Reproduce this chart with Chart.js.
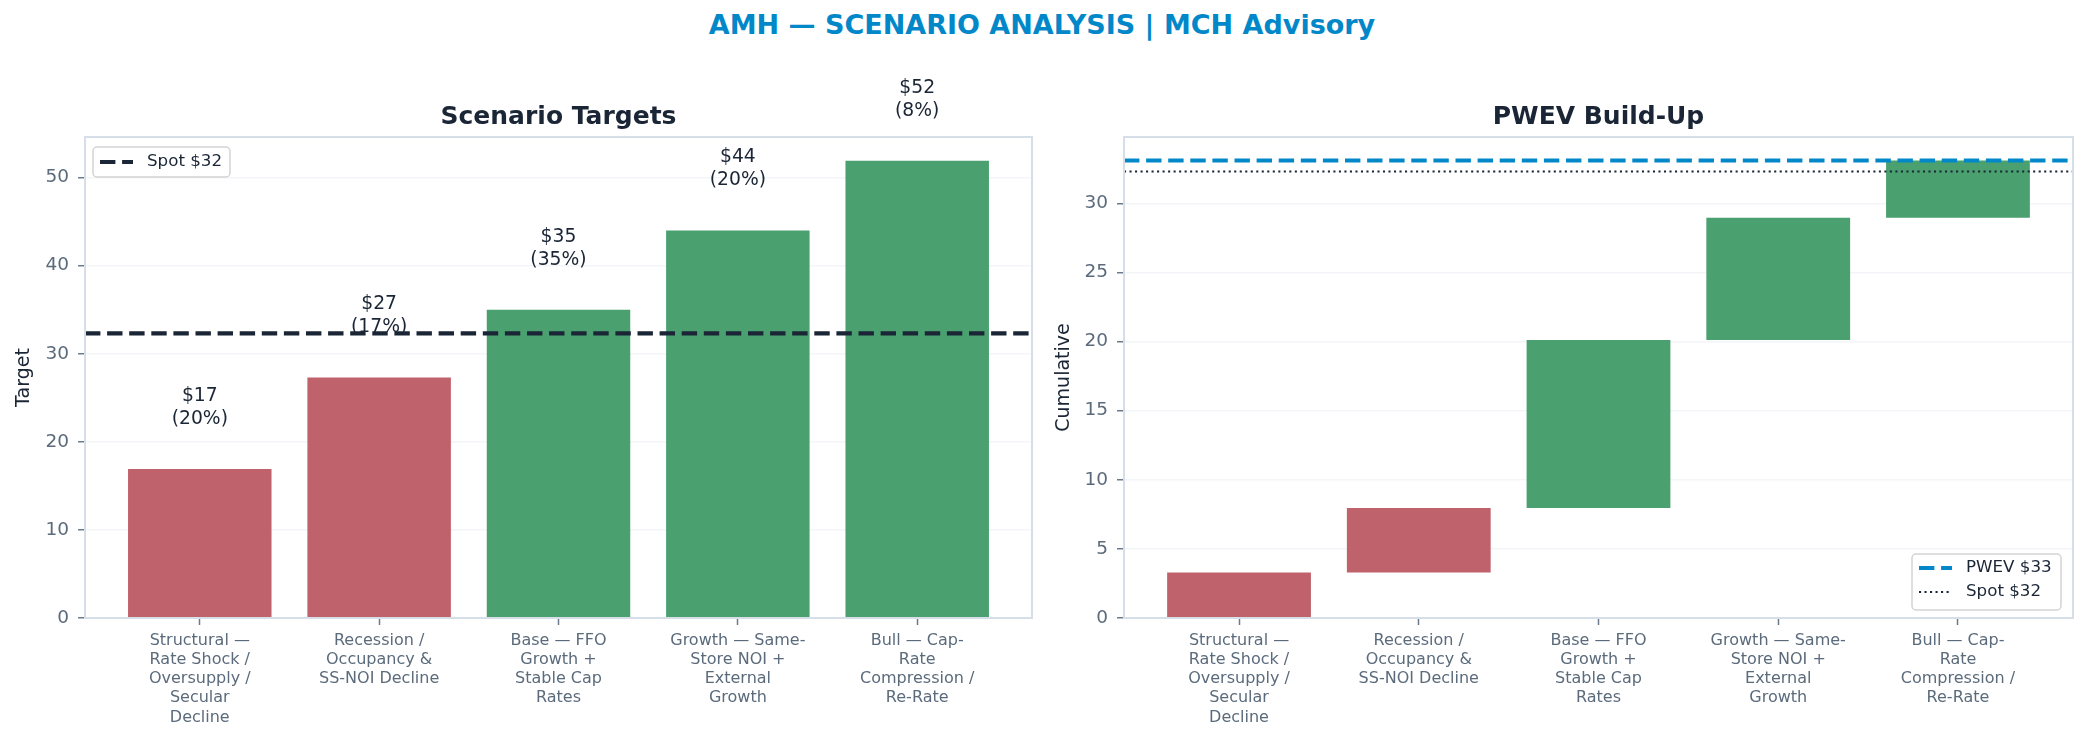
<!DOCTYPE html>
<html><head><meta charset="utf-8">
<script src="https://cdn.jsdelivr.net/npm/chart.js@4.4.1/dist/chart.umd.min.js"></script>
<style>
html,body{margin:0;padding:0;background:#fff;width:2084px;height:742px;overflow:hidden;}
#title{position:absolute;left:0;top:8px;width:2084px;text-align:center;font-family:"DejaVu Sans";font-weight:bold;font-size:27px;line-height:34px;color:#0288c9;}
canvas{position:absolute;top:0;}
</style></head><body>
<div id="title">AMH — SCENARIO ANALYSIS | MCH Advisory</div>
<canvas id="left" width="1042" height="742" style="left:0"></canvas>
<canvas id="right" width="1042" height="742" style="left:1042px"></canvas>
<script>
// ---- data ----
const categories = [
  ["Structural —", "Rate Shock /", "Oversupply /", "Secular", "Decline"],
  ["Recession /", "Occupancy &", "SS-NOI Decline"],
  ["Base — FFO", "Growth +", "Stable Cap", "Rates"],
  ["Growth — Same-", "Store NOI +", "External", "Growth"],
  ["Bull — Cap-", "Rate", "Compression /", "Re-Rate"]
];
const targets = [16.9, 27.3, 35.0, 44.0, 51.9];
const probabilities = [20, 17, 35, 20, 8];
const spot = 32.3;
const pwev = 33.1;
const cumLow  = [0, 3.30, 7.95, 20.11, 28.96];
const cumHigh = [3.30, 7.95, 20.11, 28.96, 33.1];
const leftYMax = 54.6, leftYStep = 10;
const rightYMax = 34.8, rightYStep = 5;
const xMin = -0.64, xMax = 4.64;

// ---- styles ----
const FONT = "DejaVu Sans";
const RED = "#c0626c", GREEN = "#4aa16f", BLUE = "#0288c9", DARK = "#1a2535";
const TICK = "#5b6b7c", TICKMARK = "#6b7b8c", SPINE = "#d6dee7";
const barColors = targets.map(v => v < spot ? RED : GREEN);

const framePlugin = {
  id: 'frame',
  afterDraw(chart) {
    const {ctx, chartArea: a} = chart;
    ctx.save();
    ctx.strokeStyle = SPINE; ctx.lineWidth = 2;
    ctx.strokeRect(a.left, a.top, a.right - a.left, a.bottom - a.top);
    ctx.restore();
  }
};

function drawLegend(ctx, box, items) {
  ctx.save();
  const r = 4;
  ctx.beginPath();
  ctx.moveTo(box.x + r, box.y);
  ctx.arcTo(box.x + box.w, box.y, box.x + box.w, box.y + box.h, r);
  ctx.arcTo(box.x + box.w, box.y + box.h, box.x, box.y + box.h, r);
  ctx.arcTo(box.x, box.y + box.h, box.x, box.y, r);
  ctx.arcTo(box.x, box.y, box.x + box.w, box.y, r);
  ctx.closePath();
  ctx.fillStyle = 'rgba(255,255,255,0.85)';
  ctx.fill();
  ctx.strokeStyle = '#d4d4d4'; ctx.lineWidth = 1.5;
  ctx.stroke();
  items.forEach(it => {
    ctx.beginPath();
    ctx.setLineDash(it.dash);
    ctx.lineWidth = it.width; ctx.strokeStyle = it.color;
    ctx.moveTo(box.x + 7, it.y); ctx.lineTo(box.x + 40, it.y);
    ctx.stroke();
    ctx.setLineDash([]);
    ctx.fillStyle = DARK;
    ctx.font = '16.7px "' + FONT + '"';
    ctx.textBaseline = 'middle'; ctx.textAlign = 'left';
    ctx.fillText(it.label, box.x + 54, it.y);
  });
  ctx.restore();
}

function makeOptions(yMax, yStep, yTitle, yTitlePad, yWidth, rightPad, titleText) {
  return {
    responsive: false, animation: false, devicePixelRatio: 1,
    layout: {padding: {left: 0, right: rightPad, top: 0, bottom: 0}},
    plugins: {
      legend: {display: false}, tooltip: {enabled: false},
      title: {display: true, text: titleText, color: DARK, fullSize: false,
        font: {family: FONT, size: 25, weight: 'bold'}, padding: {top: 102, bottom: 5}}
    },
    scales: {
      x: {
        type: 'linear', min: xMin, max: xMax, offset: false,
        afterBuildTicks(s) { s.ticks = categories.map((_, i) => ({value: i})); },
        afterFit(s) { s.height = 124; },
        ticks: {autoSkip: false, maxRotation: 0, minRotation: 0, padding: 6, color: TICK,
          font: {family: FONT, size: 16, lineHeight: 1.2},
          callback: (v) => categories[v]},
        grid: {offset: false, drawOnChartArea: false, drawTicks: true, tickLength: 7,
          tickWidth: 1.5, tickColor: TICKMARK, color: TICKMARK},
        border: {display: false}
      },
      y: {
        min: 0, max: yMax, z: 1,
        afterFit(s) { s.width = yWidth; },
        ticks: {stepSize: yStep, includeBounds: false, padding: 9, color: TICK,
          font: {family: FONT, size: 18.5}},
        grid: {color: 'rgba(232,236,241,0.5)', lineWidth: 1.5, tickLength: 7,
          tickWidth: 1.5, tickColor: TICKMARK},
        border: {display: false},
        title: {display: true, text: yTitle, color: DARK, font: {family: FONT, size: 19},
          padding: {top: yTitlePad, bottom: 0}}
      }
    }
  };
}

// ---- left chart ----
const labelPlugin = {
  id: 'barLabels',
  afterDatasetsDraw(chart) {
    const {ctx, scales: {x, y}} = chart;
    ctx.save();
    ctx.fillStyle = DARK;
    ctx.font = '18.75px "' + FONT + '"';
    ctx.textAlign = 'center'; ctx.textBaseline = 'middle';
    targets.forEach((v, i) => {
      const px = x.getPixelForValue(i), py = y.getPixelForValue(v);
      ctx.fillText('$' + Math.round(v), px, py - 73);
      ctx.fillText('(' + probabilities[i] + '%)', px, py - 50);
    });
    ctx.restore();
  }
};
const leftLegend = {
  id: 'leftLegend',
  afterDraw(chart) {
    drawLegend(chart.ctx, {x: 93, y: 147, w: 137, h: 30}, [
      {label: 'Spot $' + Math.round(spot), color: DARK, dash: [15.4, 6.7], width: 4.2, y: 162}
    ]);
  }
};

new Chart(document.getElementById('left'), {
  data: {
    datasets: [
      {type: 'line', order: 0, data: [{x: xMin, y: spot}, {x: xMax, y: spot}],
        borderColor: DARK, borderWidth: 4.2, borderDash: [15.4, 6.7], pointRadius: 0, fill: false},
      {type: 'bar', order: 1, data: targets.map((v, i) => ({x: i, y: v})),
        backgroundColor: barColors, borderWidth: 0, categoryPercentage: 0.8, barPercentage: 1}
    ]
  },
  options: makeOptions(leftYMax, leftYStep, 'Target', 12.6, 85, 10, 'Scenario Targets'),
  plugins: [framePlugin, labelPlugin, leftLegend]
});

// ---- right chart ----
const rightLegend = {
  id: 'rightLegend',
  afterDraw(chart) {
    drawLegend(chart.ctx, {x: 870, y: 554, w: 149, h: 56}, [
      {label: 'PWEV $' + Math.round(pwev), color: BLUE, dash: [15.4, 6.7], width: 4.2, y: 568},
      {label: 'Spot $' + Math.round(spot), color: DARK, dash: [2.08, 3.43], width: 2.08, y: 592}
    ]);
  }
};

new Chart(document.getElementById('right'), {
  data: {
    datasets: [
      {type: 'line', order: 0, data: [{x: xMin, y: pwev}, {x: xMax, y: pwev}],
        borderColor: BLUE, borderWidth: 4.2, borderDash: [15.4, 6.7], pointRadius: 0, fill: false},
      {type: 'line', order: 0, data: [{x: xMin, y: spot}, {x: xMax, y: spot}],
        borderColor: DARK, borderWidth: 2.08, borderDash: [2.08, 3.43], pointRadius: 0, fill: false},
      {type: 'bar', order: 1, data: cumLow.map((lo, i) => ({x: i, y: [lo, cumHigh[i]]})),
        backgroundColor: barColors, borderWidth: 0, categoryPercentage: 0.8, barPercentage: 1}
    ]
  },
  options: makeOptions(rightYMax, rightYStep, 'Cumulative', 10.6, 82, 11, 'PWEV Build-Up'),
  plugins: [framePlugin, rightLegend]
});
</script>
</body></html>
